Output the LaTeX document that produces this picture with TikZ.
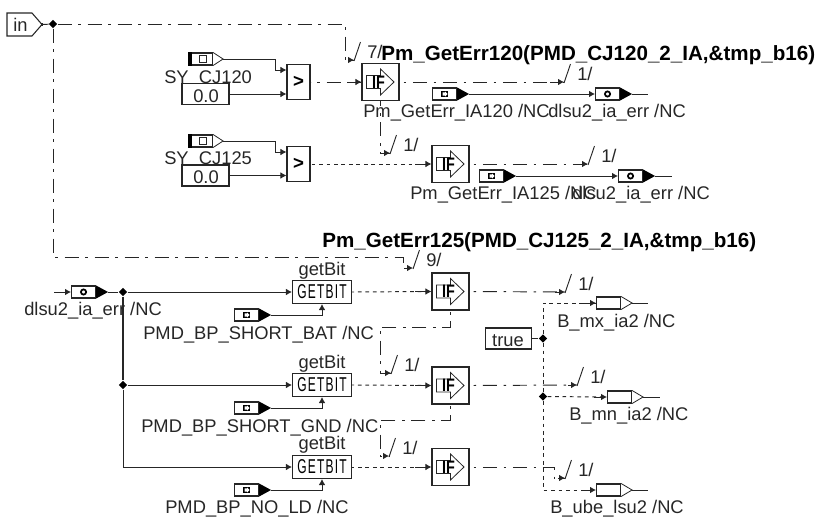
\documentclass[tikz,border=0pt]{standalone}
\usepackage{fontspec}
\usepackage{graphicx}
\setmainfont{Liberation Sans}
\usetikzlibrary{arrows.meta,shapes.geometric,calc}
\tikzset{
 sig/.style={line width=0.72pt,draw=black!85},
 arr/.style={-{Latex[length=4.5pt,width=5pt]}},
 dd/.style={sig,dash pattern=on 10.5pt off 5pt on 2pt off 5pt},
 dot/.style={sig,dash pattern=on 2.8pt off 2.8pt},
 box/.style={draw=black!85,line width=0.8pt,fill=white,inner sep=0pt,minimum width=#1,rectangle},
 junc/.style={diamond,fill=black,inner sep=0pt,minimum size=6.5pt},
 lab/.style={inner sep=0pt,anchor=base west,font=\fontsize{13.75pt}{14pt}\selectfont,text=black!85},
 labc/.style={lab,anchor=base},
 ttl/.style={lab,font=\fontsize{15.45pt}{16pt}\selectfont\bfseries,text=black},
}
% x y = centre
\newcommand{\condbox}[3]{%
 \node[box=27.75pt,minimum height=27.75pt] (#1) at (#2,#3) {};
 \draw[line width=0.6pt,black!85] ($(#1.center)+(-14,-6.5)$) -- ++(14,0) -- ++(0,-6.5) -- ++(13.5,13) -- ++(-13.5,13) -- ++(0,-6.5) -- ++(-14,0) -- cycle;
 \node[inner sep=0pt,font=\fontsize{13.5pt}{13.5pt}\selectfont\bfseries] at ($(#1.center)+(-2,0)$) {\scalebox{0.8}[1]{IF}};
}
\newcommand{\cmpbox}[3]{%
 \node[box=17.25pt,minimum height=26.25pt,font=\fontsize{14pt}{14pt}\selectfont\bfseries] (#1) at (#2,#3) {>};
}
\newcommand{\bitbox}[3]{%
 \node[box=44.25pt,minimum height=17.25pt,font=\fontsize{15pt}{15pt}\selectfont] (#1) at (#2,#3) {\scalebox{0.6}[1]{\addfontfeature{LetterSpace=10}GETBIT}};
}
% SY tag: #2 left x, #3 centre y
\newcommand{\sytag}[3]{%
 \node[box=18pt,minimum height=9pt,anchor=west] (#1) at (#2,#3) {};
 \fill[black] (#1.north west) rectangle ($(#1.south west)+(4,0)$);
 \draw[line width=0.4pt,black!85] ($(#1.center)+(-1.5,-3.5)$) rectangle ++(7.5,7);
 \draw[line width=0.6pt,black!85] (#1.north east) -- ($(#1.east)+(10,0)$) coordinate (#1t) -- (#1.south east);
}
% black-headed tag
\newcommand{\intag}[3]{%
 \node[box=18pt,minimum height=9pt,anchor=west] (#1) at (#2,#3) {};
 \fill[black] ($(#1.center)+(-4,-3)$) rectangle ++(7,6);
 \fill[white] ($(#1.center)+(-2,-1.7)$) -- ++(2.5,0) -- ++(0,-.8) -- ++(2.5,2.5) -- ++(-2.5,2.5) -- ++(0,-.8) -- ++(-2.5,0) -- cycle;
 \fill[black] (#1.north east) -- ($(#1.east)+(12,0)$) coordinate (#1t) -- (#1.south east) -- cycle;
}
% circle-icon tag
\newcommand{\retag}[3]{%
 \node[box=18pt,minimum height=9pt,anchor=west] (#1) at (#2,#3) {};
 \draw[line width=1.3pt,black] (#1.center) circle (2.6);
 \fill[black] (#1.north east) -- ($(#1.east)+(12,0)$) coordinate (#1t) -- (#1.south east) -- cycle;
}
% output tag
\newcommand{\outtag}[3]{%
 \node[box=18pt,minimum height=9pt,anchor=west] (#1) at (#2,#3) {};
 \draw[line width=0.6pt,black!85] (#1.north east) -- ($(#1.east)+(11,0)$) coordinate (#1t) -- (#1.south east);
}
% slash at the arrow end
\newcommand{\tick}[4]{%
 \coordinate (#1) at (#2,#3);
 \draw[line width=0.7pt,black!85] (#2,#3+1) -- ++(6.5,-19);
 \node[lab] (#1t) at (#2+13,#3-2) {#4};
}
\begin{document}
\begin{tikzpicture}[x=0.75pt,y=-0.75pt]
\useasboundingbox (0,0) rectangle (815,518);
% ---- blocks
\node[draw=black!85,line width=0.8pt,inner sep=0pt] (inref) at (42,24.5) {};
\draw[line width=0.8pt,black!85] (42,24.5) -- (32,36) -- (7,36) -- (7,13) -- (32,13) -- cycle;
\node[lab] (intext) at (13,31) {in};
\node[junc] (j0) at (53,24) {};
\sytag{sy1}{188}{59}
\sytag{sy2}{188}{141}
\node[lab] (sy1l) at (164,83) {SY\_CJ120};
\node[lab] (sy2l) at (164,164) {SY\_CJ125};
\node[box=35.25pt,minimum height=15.75pt] (c1) at (205.5,94) {};
\node[labc] (c1l) at (206,102) {0.0};
\node[box=35.25pt,minimum height=15.75pt] (c2) at (205.5,175.5) {};
\node[labc] (c2l) at (206,183) {0.0};
\cmpbox{g1}{298.5}{82}
\cmpbox{g2}{298.5}{164}
\condbox{if1}{380.5}{82}
\condbox{if2}{450.5}{164}
\condbox{if3}{450.5}{291.5}
\condbox{if4}{450.5}{385.5}
\condbox{if5}{450.5}{467}
\bitbox{b1}{322}{292}
\bitbox{b2}{322}{385}
\bitbox{b3}{322}{467}
\intag{t1}{432}{94}
\retag{t2}{595}{94}
\intag{t3}{479}{176}
\retag{t4}{618}{176}
\retag{t5}{71}{292}
\intag{t6}{234}{315}
\intag{t7}{234}{408}
\intag{t8}{234}{490}
\outtag{o1}{596}{303}
\outtag{o2}{607}{397}
\outtag{o3}{596}{490}
\node[box=34.5pt,minimum height=15.75pt] (tr) at (508.5,338.5) {};
\node[labc] (trl) at (508,346) {true};
\node[junc] (j1) at (123,292) {};
\node[junc] (j2) at (123,385) {};
\node[junc] (j3) at (543,338.5) {};
\node[junc] (j4) at (543,396.5) {};
\coordinate (o1e) at (648,303);
\coordinate (o2e) at (660,397);
\coordinate (o3e) at (648,490);
\coordinate (t2e) at (648,94);
\coordinate (t4e) at (672,176);
\coordinate (t5s) at (54,292);
% ---- ticks
\tick{k1}{354}{60}{7/}
\tick{k2}{564}{82}{1/}
\tick{k3}{390}{153}{1/}
\tick{k4}{588}{164}{1/}
\tick{k5}{413}{268}{9/}
\tick{k6}{565}{292}{1/}
\tick{k7}{391}{373}{1/}
\tick{k8}{577}{385}{1/}
\tick{k9}{389}{456}{1/}
\tick{k10}{565}{478}{1/}
% ---- connectors
\draw[dd] (j0) -- (345,24) -- (345,60) -- (k1);
\draw[arr,sig] (349,60) -- (k1);
\draw[dd] (j0) -- (53,257) -- (403,257) -- (403,268) -- (k5);
\draw[arr,sig] (408,268) -- (k5);
\draw[sig] (inref) -- (j0);
\draw[sig,arr] (sy1t) -- (275,59) -- (275,70) -- (g1.west |- 0,70);
\draw[sig,arr] (sy2t) -- (275,141) -- (275,152) -- (g2.west |- 0,152);
\draw[sig,arr] (c1.east) -- (g1.west |- c1.east);
\draw[sig,arr] (c2.east) -- (g2.west |- c2.east);
\draw[dd,dash phase=-12pt] (g1.east) -- (if1.west);
\draw[sig,arr] (350,82) -- (if1.west);
\draw[dot,dash phase=-12pt] (g2.east) -- (if2.west);
\draw[sig,arr] (415,164) -- (if2.west);
\draw[dd,dash phase=-10pt] (if1.east) -- (k2);
\draw[sig,arr] (550,82) -- (k2);
\draw[dd,dash phase=-10pt] (if2.east) -- (k4);
\draw[sig,arr] (580,164) -- (k4);
\draw[dd,dash phase=-16pt] (if1.south) -- (380.5,153) -- (k3);
\draw[sig,arr] (383,153) -- (k3);
\draw[sig,arr] (t1t) -- (t2.west);
\draw[sig,arr] (t3t) -- (t4.west);
\draw[sig] (t2t) -- (t2e);
\draw[sig] (t4t) -- (t4e);
\draw[sig,arr] (t5s) -- (t5.west);
\draw[sig] (t5t) -- (j1);
\draw[sig,arr] (j1) -- (b1.west);
\draw[sig,arr] (j2) -- (b2.west);
\draw[line width=1.3pt,black!85] (j1) -- (j2);
\draw[sig,arr] (j2) -- (123,467) -- (b3.west);
\draw[sig,arr] (t6t) -- (b1.south |- t6t) -- (b1.south);
\draw[sig,arr] (t7t) -- (b2.south |- t7t) -- (b2.south);
\draw[sig,arr] (t8t) -- (b3.south |- t8t) -- (b3.south);
\draw[dot,dash phase=-10pt] (b1.east) -- (if3.west);
\draw[sig,arr] (415,291.5) -- (if3.west);
\draw[dot,dash phase=-10pt] (b2.east) -- (if4.west);
\draw[sig,arr] (415,385.5) -- (if4.west);
\draw[dot,dash phase=-10pt] (b3.east) -- (if5.west);
\draw[sig,arr] (415,467) -- (if5.west);
\draw[dd,dash phase=-10pt] (if3.east) -- (k6);
\draw[sig,arr] (555,292) -- (k6);
\draw[dd,dash phase=-10pt] (if4.east) -- (k8);
\draw[sig,arr] (568,385) -- (k8);
\draw[dd,dash phase=-10pt] (if5.east) -- (554,467) -- (554,478) -- (k10);
\draw[sig,arr] (558,478) -- (k10);
\draw[dd,dash phase=-8pt] (if3.south) -- (450.5,327) -- (380,327) -- (380,373) -- (k7);
\draw[sig,arr] (385,373) -- (k7);
\draw[dd,dash phase=-8pt] (if4.south) -- (450.5,420) -- (380,420) -- (380,456) -- (k9);
\draw[sig,arr] (384,456) -- (k9);
\draw[sig] (tr.east) -- (j3);
\draw[dot] (j3) -- (543,303) -- (o1.west);
\draw[dot] (j3) -- (j4);
\draw[dot] (j4) -- (o2.west);
\draw[dot] (j4) -- (543,490) -- (o3.west);
\draw[sig,arr] (582,303) -- (o1.west);
\draw[sig,arr] (594,397) -- (o2.west);
\draw[sig,arr] (582,490) -- (o3.west);
\draw[sig] (o1t) -- (o1e);
\draw[sig] (o2t) -- (o2e);
\draw[sig] (o3t) -- (o3e);
% ---- labels
\node[ttl] (h1) at (381,60) {Pm\_GetErr120(PMD\_CJ120\_2\_IA,\&tmp\_b16)};
\node[ttl] (h2) at (322,247) {Pm\_GetErr125(PMD\_CJ125\_2\_IA,\&tmp\_b16)};
\node[lab] (l1) at (363,117) {Pm\_GetErr\_IA120 /NC};
\node[lab] (l2) at (548,117) {dlsu2\_ia\_err /NC};
\node[lab] (l3) at (410,199) {Pm\_GetErr\_IA125 /NC};
\node[lab] (l4) at (572,199) {dlsu2\_ia\_err /NC};
\node[lab] (l5) at (24,315) {dlsu2\_ia\_err /NC};
\node[lab] (l6) at (143,339) {PMD\_BP\_SHORT\_BAT /NC};
\node[lab] (l7) at (141,432) {PMD\_BP\_SHORT\_GND /NC};
\node[lab] (l8) at (165,513) {PMD\_BP\_NO\_LD /NC};
\node[labc] (g1l) at (322,275) {getBit};
\node[labc] (g2l) at (322,368) {getBit};
\node[labc] (g3l) at (322,449) {getBit};
\node[lab] (l9) at (557,327) {B\_mx\_ia2 /NC};
\node[lab] (l10) at (569,420) {B\_mn\_ia2 /NC};
\node[lab] (l11) at (550,513) {B\_ube\_lsu2 /NC};
\end{tikzpicture}
\end{document}
